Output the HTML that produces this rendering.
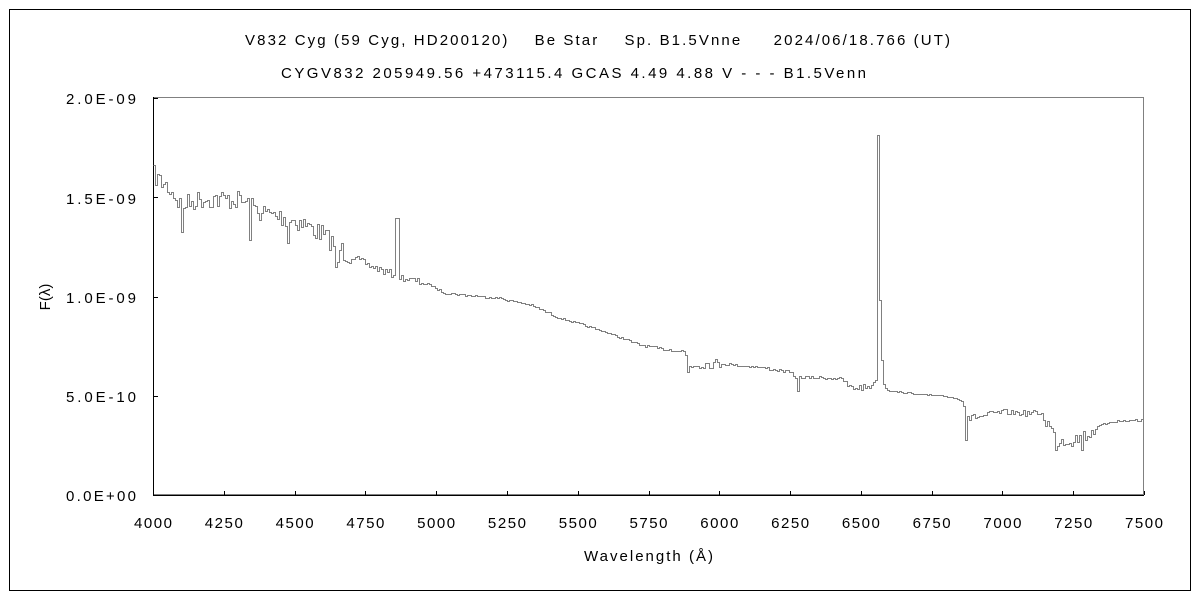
<!DOCTYPE html>
<html><head><meta charset="utf-8"><style>
html,body{margin:0;padding:0;background:#fff;}
svg{display:block;font-family:"Liberation Sans","Noto Sans CJK JP",sans-serif;}
</style></head><body>
<svg id="s" width="1200" height="600" xmlns="http://www.w3.org/2000/svg">
<rect x="9.5" y="9.5" width="1181" height="581" fill="none" stroke="#000" stroke-width="1"/>
<text x="245" y="45" font-size="15" textLength="705" lengthAdjust="spacing" fill="#000">V832 Cyg (59 Cyg, HD200120)&#160;&#160;&#160; Be Star&#160;&#160;&#160; Sp. B1.5Vnne&#160;&#160;&#160;&#160; 2024/06/18.766 (UT)</text>
<text x="281" y="78" font-size="15" textLength="585" lengthAdjust="spacing" fill="#000">CYGV832 205949.56 +473115.4 GCAS 4.49 4.88 V - - - B1.5Venn</text>
<rect x="153.5" y="97.5" width="990" height="397" fill="none" stroke="#808080" stroke-width="1"/>
<line x1="153.5" y1="97" x2="153.5" y2="495" stroke="#000"/>
<line x1="153" y1="495.5" x2="1144" y2="495.5" stroke="#000"/>
<g font-size="15" fill="#000">
<text x="66" y="104" textLength="70" lengthAdjust="spacing">2.0E-09</text>
<text x="66" y="204" textLength="70" lengthAdjust="spacing">1.5E-09</text>
<text x="66" y="303" textLength="70" lengthAdjust="spacing">1.0E-09</text>
<text x="66" y="402" textLength="70" lengthAdjust="spacing">5.0E-10</text>
<text x="66" y="501" textLength="70" lengthAdjust="spacing">0.0E+00</text>
</g>
<g stroke="#000">
<line x1="153" y1="98.5" x2="158" y2="98.5"/><line x1="153" y1="197.5" x2="158" y2="197.5"/>
<line x1="153" y1="297.5" x2="158" y2="297.5"/><line x1="153" y1="396.5" x2="158" y2="396.5"/>
</g>
<g id="xt" font-size="15" fill="#000" text-anchor="middle"></g>
<text x="584" y="561" font-size="15" textLength="129" lengthAdjust="spacing">Wavelength (Å)</text>
<text x="50" y="297" font-size="15" text-anchor="middle" transform="rotate(-90 50 297)">F(λ)</text>
<polyline id="sp" fill="none" stroke="#808080" stroke-width="1" shape-rendering="crispEdges"/>
</svg>
<script>
var xt=document.getElementById('xt');
for(var i=0;i<=14;i++){var w=4000+250*i,x=153+i*(991/14);
var t=document.createElementNS('http://www.w3.org/2000/svg','text');t.setAttribute('x',x);t.setAttribute('y',528);t.setAttribute('textLength',38);t.setAttribute('lengthAdjust','spacing');t.textContent=w;xt.appendChild(t);
var l=document.createElementNS('http://www.w3.org/2000/svg','line');l.setAttribute('x1',Math.round(x)+0.5);l.setAttribute('x2',Math.round(x)+0.5);l.setAttribute('y1',495);l.setAttribute('y2',491);l.setAttribute('stroke','#000');document.getElementById('s').insertBefore(l,xt);}
var base=[[153,175],[170,190],[180,205],[200,198],[240,200],[260,212],[300,222],[320,233],[345,253],[370,266],[400,277],[430,285],[445,293],[500,298],[530,305],[560,318],[600,330],[640,345],[684,352],[688,365],[715,363],[760,367],[790,372],[796,378],[800,377],[840,378],[850,388],[870,386],[874,380],[882,383],[887,390],[900,392],[950,397],[962,400],[968,418],[1000,412],[1040,413],[1048,425],[1055,440],[1080,438],[1095,428],[1110,421],[1144,420]];
function b(x){for(var i=0;i<base.length-1;i++){if(x>=base[i][0]&&x<=base[i+1][0]){var a=base[i],c=base[i+1];return a[1]+(c[1]-a[1])*(x-a[0])/(c[0]-a[0]);}}return 420;}
var seed=7;function r(){seed=(seed*16807)%2147483647;return seed/2147483647-0.5;}
function amp(x){if(x<350)return 20;if(x<420)return 7;if(x<680)return 2;if(x<720)return 9;if(x<845)return 3;if(x<870)return 7;if(x<960)return 1.5;if(x<1045)return 6;if(x<1095)return 16;return 3;}
var spec={181:238,182:232,250:240,287:243,336:267,337:262,396:218,397:218,398:218,687:372,797:391,965:440,966:440,877:190,878:135,879:135,880:300,881:360,1056:450,1081:450};
var pts=[];var prev=null;
for(var x=153;x<=1144;x+=2){var y=Math.round(b(x)+r()*amp(x))+0.5;if(spec[x]!==undefined)y=spec[x]+0.5;if(spec[x+1]!==undefined)y=spec[x+1]+0.5;
if(prev!==null)pts.push((x+0.5)+','+prev);pts.push((x+0.5)+','+y);prev=y;}
document.getElementById('sp').setAttribute('points',pts.join(' '));
</script>
</body></html>
